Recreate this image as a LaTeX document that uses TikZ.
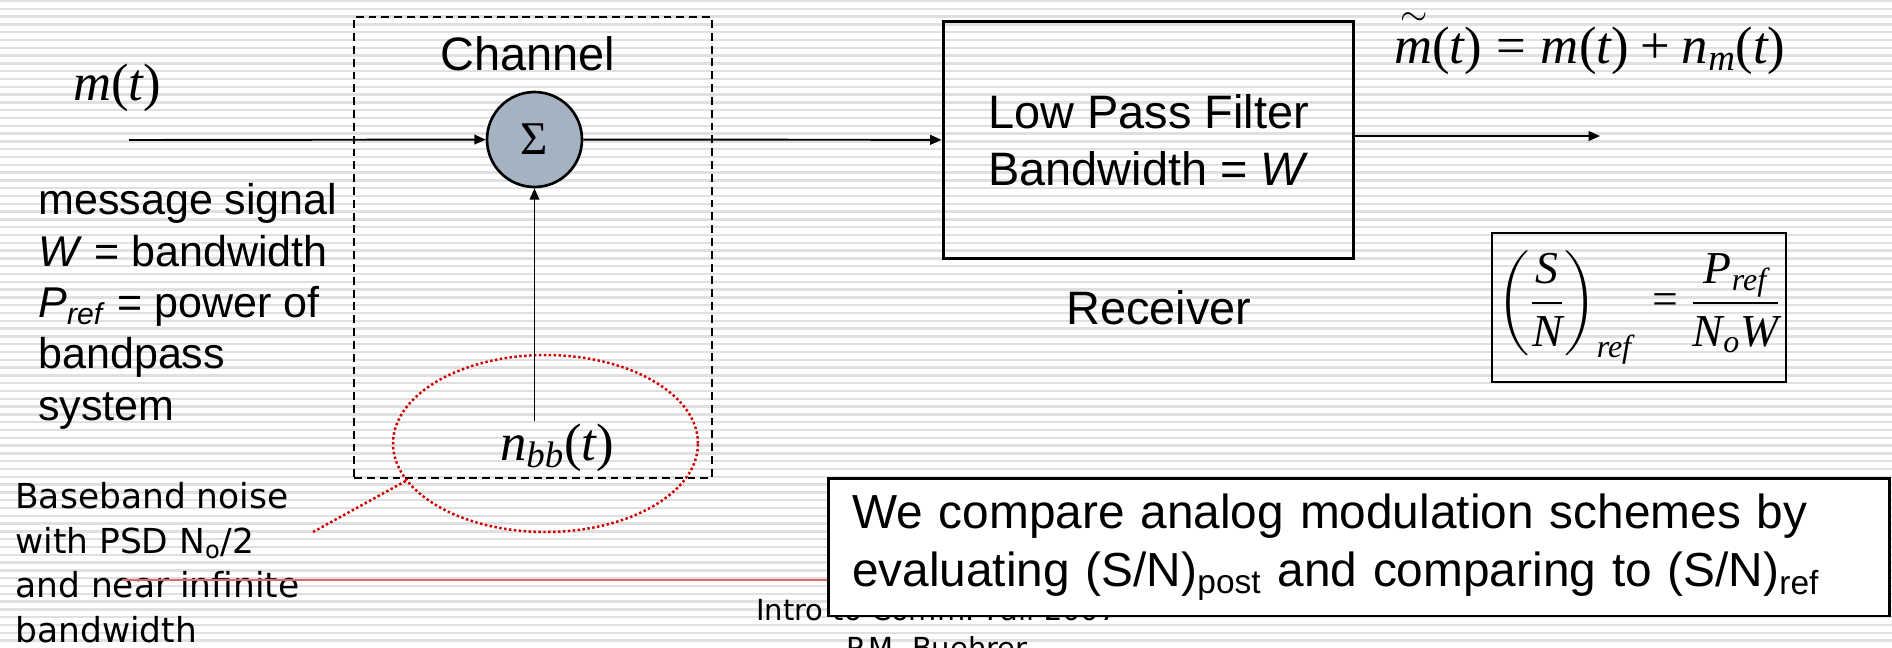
\RequirePackage{fix-cm}
\documentclass[tikz,border=0pt]{standalone}
\usepackage{amsmath}
\usepackage{fontspec}
\setmainfont{Liberation Sans}
\newfontfamily\tms{Liberation Serif}
\newfontfamily\dvs{DejaVu Sans}
\usetikzlibrary{arrows.meta,shapes.geometric}

\definecolor{sumfill}{HTML}{A5B2C2}
\definecolor{dotred}{HTML}{D00000}
\definecolor{rulered}{HTML}{E06A6A}
\definecolor{stripegray}{HTML}{E0E0E0}

\newcommand\lblsize{\fontsize{26.7}{32.4}\selectfont}
\newcommand\descsize{\fontsize{24.5}{29.3}\selectfont}
\newcommand\notesize{\fontsize{19.6}{25.4}\selectfont}
\newcommand\eqsize{\fontsize{30}{36}\selectfont}
\newcommand\snrsize{\fontsize{26}{31}\selectfont}
\newcommand\cmpsize{\fontsize{27.2}{33}\selectfont}
\newcommand\footsize{\fontsize{16.5}{21.6}\selectfont}
\newcommand\tmit[1]{\text{\tms\itshape #1}}
\newcommand\tmrm[1]{\text{\tms #1}}
\newcommand\targ{\tmrm{(}\tmit{t}\tmrm{)}}
\newcommand\mtilde{\text{\rlap{\hspace{0.12em}\raisebox{0.72em}{\fontsize{20}{20}\selectfont$\sim$}}\tms\itshape m}}

\begin{document}
\begin{tikzpicture}[x=0.02cm,y=-0.02cm,
    lbl/.style={anchor=base,inner sep=1pt},
    wire/.style={line width=1.1pt,-{Triangle[length=6.5pt,width=5.5pt]}},
    sumnode/.style={draw,circle,line width=1.5pt,fill=sumfill,minimum size=1.9cm,inner sep=0pt,font=\tms\lblsize},
    chanbox/.style={draw,line width=1.1pt,dash pattern=on 4.5pt off 2.8pt,minimum width=7.16cm,minimum height=9.22cm},
    blk/.style={draw,line width=1.7pt,minimum width=8.22cm,minimum height=4.76cm,align=center,font=\lblsize},
    snrbox/.style={draw,line width=1.1pt,minimum width=5.88cm,minimum height=2.98cm,inner sep=1pt,font=\snrsize},
    noisering/.style={draw=dotred,ellipse,line width=1.4pt,dash pattern=on 1.4pt off 1.4pt,minimum width=6.1cm,minimum height=3.54cm,inner sep=0pt},
    note/.style={anchor=north west,align=left,inner sep=0pt},
    foot/.style={anchor=base,inner sep=0pt,font=\dvs\footsize},
    cmpbox/.style={draw,fill=white,line width=1.7pt,text width=20.28cm,inner xsep=0.48cm,minimum height=2.76cm,align=left,font=\cmpsize}]

    % page and ruled background
    \fill[white] (0,0) rectangle (1892,647);
    \useasboundingbox (0,0) rectangle (1892,647);
    \foreach \k in {0,...,82}
      \draw[stripegray,line width=1.3pt] (0,1+7.8*\k) -- (1892,1+7.8*\k);

    % channel
    \node[chanbox] (chan) at (533,247.5) {};
    \node[lbl,font=\lblsize] (chanlbl) at (528,70) {Channel};
    \node[sumnode] (sum) at (534.5,139.5) {\raisebox{-0.1em}{Σ}};
    \node[lbl,anchor=base west] (nbb) at (498,460) {\eqsize $\tmit{n}_{\tmit{bb}}\targ$};
    \node[noisering] (ring) at (545.5,443.5) {};

    % message side
    \node[lbl] (msig) at (117,100) {\eqsize $\tmit{m}\targ$};
    \coordinate (src) at (129,140);
    \node[note,font=\descsize] (msgnote) at (38,183) {message signal\\\textit{W} = bandwidth\\\textit{P}\textsubscript{\textit{ref}} = power of\\bandpass\\system};

    % receiver
    \node[blk] (lpf) at (1148.5,140) {Low Pass Filter\\Bandwidth = \textit{W}};
    \node[lbl,font=\lblsize] (rcv) at (1159,324) {Receiver};
    \coordinate (sink) at (1600,136);
    \node[lbl,anchor=base west] (mtil) at (1392,63) {\eqsize $\mtilde\targ\mathrel{\tmrm{=}}\tmit{m}\targ\mathbin{\tmrm{+}}\tmit{n}_{\tmit{m}}\targ$};
    \node[snrbox] (snr) at (1639,307.5) {$\left(\dfrac{\tmit{S}}{\tmit{N}}\right)_{\tmit{ref}}\;\tmrm{=}\;\dfrac{\tmit{P}_{\tmit{ref}}}{\tmit{N}_{\tmit{o}}\tmit{W}}$};

    \draw[wire] (src) -- (sum);
    \draw[wire] (sum) -- (lpf);
    \draw[wire] (lpf.east |- sink) -- (sink);
    \draw[wire] (sum |- nbb.north) -- (sum);

    % noise callout
    \node[note,font=\dvs\notesize] (bbnote) at (15,482) {Baseband noise\\with PSD N\textsubscript{o}/2\\and near infinite\\bandwidth};
    \coordinate (tail) at (313,532);
    \draw[dotred,line width=1.4pt,dash pattern=on 1.4pt off 1.4pt] (tail) -- (ring.195);

    % footer and summary
    \node[foot] (course) at (937,620) {Intro to Comm. Fall 2007};
    \node[foot] (author) at (937,658) {P.M. Buehrer};
    \node[cmpbox] (cmp) at (1359,547) {We compare analog modulation schemes by\\evaluating (S/N)\textsubscript{post} and comparing to (S/N)\textsubscript{ref}};
    \coordinate (rulestart) at (122,580);
    \draw[rulered,line width=1.1pt] (rulestart) -- (rulestart -| cmp.west);

  \end{tikzpicture}
\end{document}
